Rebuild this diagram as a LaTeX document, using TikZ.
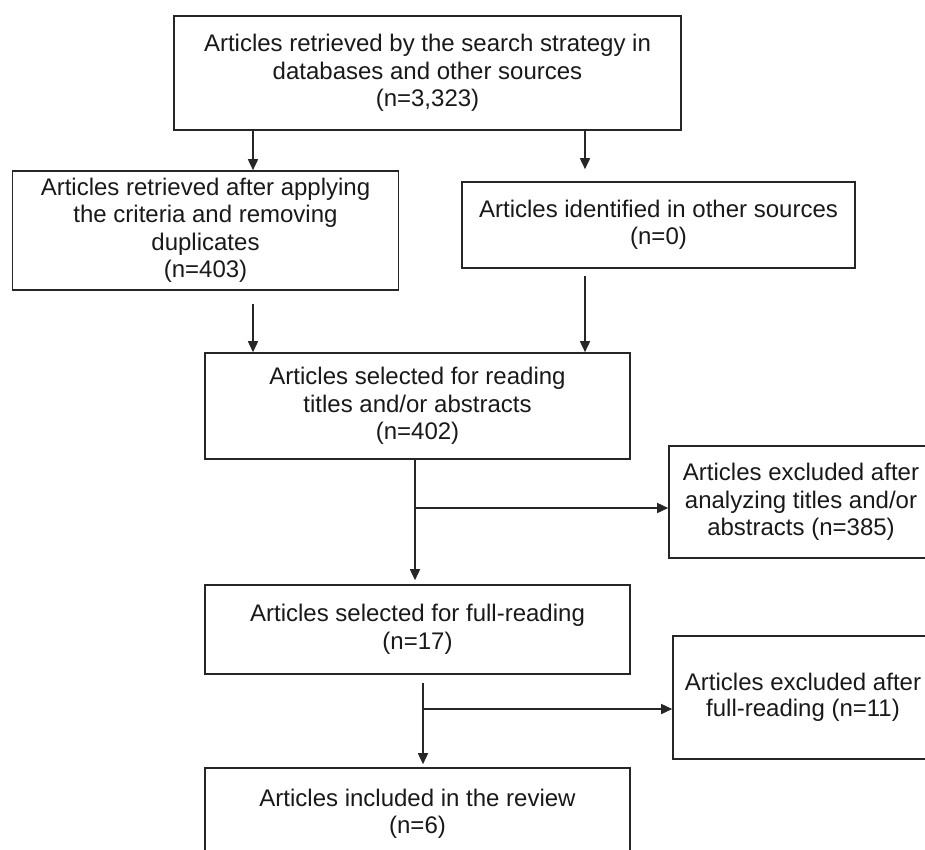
\documentclass[tikz,border=0pt]{standalone}
\usepackage{fontspec}
\setmainfont{Liberation Sans}
\usetikzlibrary{arrows.meta,calc}
\begin{document}
\begin{tikzpicture}[x=1pt,y=-1pt,
  box/.style={draw=black!85, line width=1.6pt, align=center, inner sep=0pt, text=black!90,
    font=\fontsize{24}{27.5}\selectfont},
  arr/.style={line width=1.6pt, draw=black!85, -{Triangle[length=11pt,width=10pt]}},
  ln/.style={line width=1.6pt, draw=black!85}]
\useasboundingbox (0,0) rectangle (925,849);
\clip (0,0) rectangle (925,849);
\node[box, minimum width=507pt, minimum height=114pt] (b1) at (427.5,73)
  {Articles retrieved by the search strategy in\\databases and other sources\\(n=3,323)};
\node[box, minimum width=386pt, minimum height=119pt] (b2) at (205.5,230.5)
  {Articles retrieved after applying\\the criteria and removing\\duplicates\\(n=403)};
\node[box, minimum width=393pt, minimum height=86pt] (b3) at (658.5,225)
  {Articles identified in other sources\\(n=0)};
\node[box, minimum width=425pt, minimum height=106pt] (b4) at (417.5,406)
  {Articles selected for reading\\titles and/or abstracts\\(n=402)};
\node[box, minimum width=264pt, minimum height=112pt] (b5) at (801,502)
  {Articles excluded after\\analyzing titles and/or\\abstracts (n=385)};
\node[box, minimum width=425pt, minimum height=89pt] (b6) at (417.5,629.5)
  {Articles selected for full-reading\\(n=17)};
\node[box, minimum width=260pt, minimum height=123pt, font=\fontsize{24}{25.5}\selectfont] (b7) at (803,697.5)
  {Articles excluded after\\full-reading (n=11)};
\node[box, minimum width=425pt, minimum height=92pt] (b8) at (417.5,814)
  {Articles included in the review\\(n=6)};
\coordinate (xL) at (253,0);
\coordinate (xR) at (585,0);
\coordinate (xM) at (415,0);
\coordinate (xN) at (423,0);
\coordinate (j1) at (415,508);
\coordinate (j2) at (423,709);
\draw[arr] (b1.south -| xL) -- (b2.north -| xL);
\draw[arr, shorten >=12pt] (b1.south -| xR) -- (b3.north -| xR);
\draw[arr, shorten <=13pt] (b2.south -| xL) -- (b4.north -| xL);
\draw[arr, shorten <=7pt] (b3.south -| xR) -- (b4.north -| xR);
\draw[arr, shorten >=4pt] (b4.south -| xM) -- (b6.north -| xM);
\draw[arr] (j1) -- (j1 -| b5.west);
\draw[arr, shorten <=8pt, shorten >=3pt] (b6.south -| xN) -- (b8.north -| xN);
\draw[arr] (j2) -- (j2 -| b7.west);
\end{tikzpicture}
\end{document}
